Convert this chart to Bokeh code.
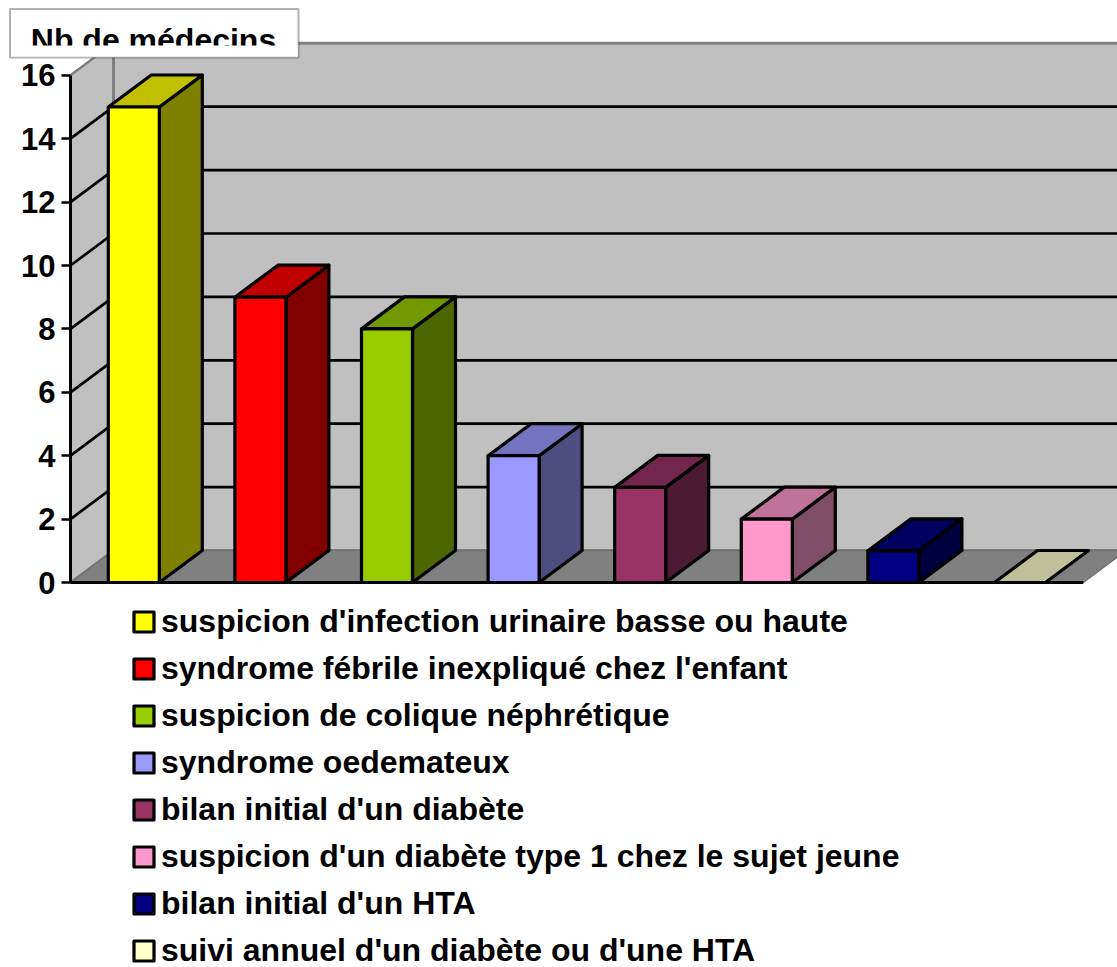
from bokeh.plotting import figure
from bokeh.embed import file_html
from bokeh.resources import INLINE
from bokeh.models import (ColumnDataSource, Legend, LegendItem, FixedTicker, Range1d,
                          BoxAnnotation, Label, LinearAxis)

categories = ["suspicion d'infection urinaire basse ou haute",
              "syndrome fébrile inexpliqué chez l'enfant",
              "suspicion de colique néphrétique",
              "syndrome oedemateux",
              "bilan initial d'un diabète",
              "suspicion d'un diabète type 1 chez le sujet jeune",
              "bilan initial d'un HTA",
              "suivi annuel d'un diabète ou d'une HTA"]
values = [15, 9, 8, 4, 3, 2, 1, 0]
front_colors = ["#FFFF00", "#FF0000", "#99CC00", "#9999FF", "#993366", "#FF99CC", "#000080", "#FFFFCC"]
side_colors = ["#808000", "#800000", "#4D6600", "#4D4D80", "#4D1A33", "#804D66", "#000040", "#808066"]
top_colors = ["#C0C000", "#C00000", "#739900", "#7373BF", "#73264D", "#BF7399", "#000060", "#BFBF99"]
y_ticks = [0, 2, 4, 6, 8, 10, 12, 14, 16]
y_title = "Nb de médecins"

FONT = "Liberation Sans"
PX_X = 126.6      # pixels per category slot
PX_Y = 31.7       # pixels per value unit
DX = 43 / PX_X    # depth of the pseudo-3D projection, in x units
DY = 32 / PX_Y    # depth, in value units
BAR = 51 / PX_X   # bar width
N = len(categories)
YMAX = max(y_ticks)

p = figure(width=1117, height=967, output_backend="svg", toolbar_location=None,
           x_range=Range1d(-70 / PX_X, 1047 / PX_X),
           y_range=Range1d(-385 / PX_Y, 582 / PX_Y),
           x_axis_location=None, y_axis_location=None,
           min_border_left=0, min_border_right=0, min_border_top=0, min_border_bottom=0,
           outline_line_color=None, background_fill_color="white", border_fill_color="white")
p.xgrid.visible = False
p.ygrid.visible = False

# walls and floor
p.patch([0, DX, DX, 0], [0, DY, YMAX + DY, YMAX], fill_color="#C0C0C0", line_color="#808080", line_width=2.5)
p.patch([DX, N + DX + 1, N + DX + 1, DX], [DY, DY, YMAX + DY, YMAX + DY],
        fill_color="#C0C0C0", line_color="#808080", line_width=3)
p.patch([0, DX, N + DX, N], [0, DY, DY, 0], fill_color="#808080", line_color="#707070", line_width=1.5)

# gridlines
grid_values = [t for t in y_ticks if 0 < t < YMAX]
p.multi_line([[0, DX, N + DX + 1] for _ in grid_values],
             [[t, t + DY, t + DY] for t in grid_values], line_color="black", line_width=2.7)
p.line([0, N], [0, 0], line_color="black", line_width=3)

lefts = [i + 0.5 - BAR / 2 for i in range(N)]
rights = [l + BAR for l in lefts]

# bar sides and tops
kw = dict(line_color="black", line_width=3.2, line_join="round")
for i, v in enumerate(values):
    if v > 0:
        p.patch([rights[i], rights[i] + DX, rights[i] + DX, rights[i]], [0, DY, v + DY, v],
                fill_color=side_colors[i], **kw)
    p.patch([lefts[i], lefts[i] + DX, rights[i] + DX, rights[i]], [v, v + DY, v + DY, v],
            fill_color=top_colors[i], **kw)

# bar fronts
src = ColumnDataSource(dict(left=lefts, right=rights, top=values, bottom=[0] * N, color=front_colors))
fronts = p.quad(left="left", right="right", top="top", bottom="bottom", fill_color="color",
                line_color="black", line_width=3.2, line_join="round", source=src)

# y axis, fixed at the front-left corner of the box
ax = LinearAxis(fixed_location=0, ticker=FixedTicker(ticks=y_ticks), bounds=(0, YMAX))
ax.axis_line_color = "black"
ax.axis_line_width = 3
ax.major_tick_line_color = "black"
ax.major_tick_line_width = 2.5
ax.major_tick_out = 9
ax.major_tick_in = 0
ax.minor_tick_line_color = None
ax.major_label_text_font = FONT
ax.major_label_text_font_style = "bold"
ax.major_label_text_font_size = "31px"
ax.major_label_text_color = "black"
ax.major_label_standoff = 6
p.add_layout(ax, "left")

legend = Legend(items=[LegendItem(label=c, renderers=[fronts], index=i) for i, c in enumerate(categories)],
                location=(131, -2), orientation="vertical",
                glyph_width=25, glyph_height=25, label_standoff=5, spacing=10,
                padding=0, margin=0, border_line_color=None, background_fill_alpha=0,
                label_text_font=FONT, label_text_font_style="bold", label_text_font_size="32px",
                label_text_color="black", label_height=34)
p.add_layout(legend, "center")

# title box over the axis top; its text is cut off by the lower edge mask
box = BoxAnnotation(left=-60.5 / PX_X, right=228 / PX_X, top=573.5 / PX_Y, bottom=525 / PX_Y,
                    fill_color="white", fill_alpha=1, line_color="black", line_width=2)
p.add_layout(box)
p.add_layout(Label(x=83 / PX_X, y=543 / PX_Y, text=y_title, text_align="center",
                   text_baseline="alphabetic", text_font=FONT, text_font_style="bold",
                   text_font_size="32px", text_color="black"))
mask = BoxAnnotation(left=-59.5 / PX_X, right=227 / PX_X, top=537 / PX_Y, bottom=526 / PX_Y,
                     fill_color="white", fill_alpha=1, line_color=None)
p.add_layout(mask)

open("out.html", "w").write(file_html(p, INLINE))
